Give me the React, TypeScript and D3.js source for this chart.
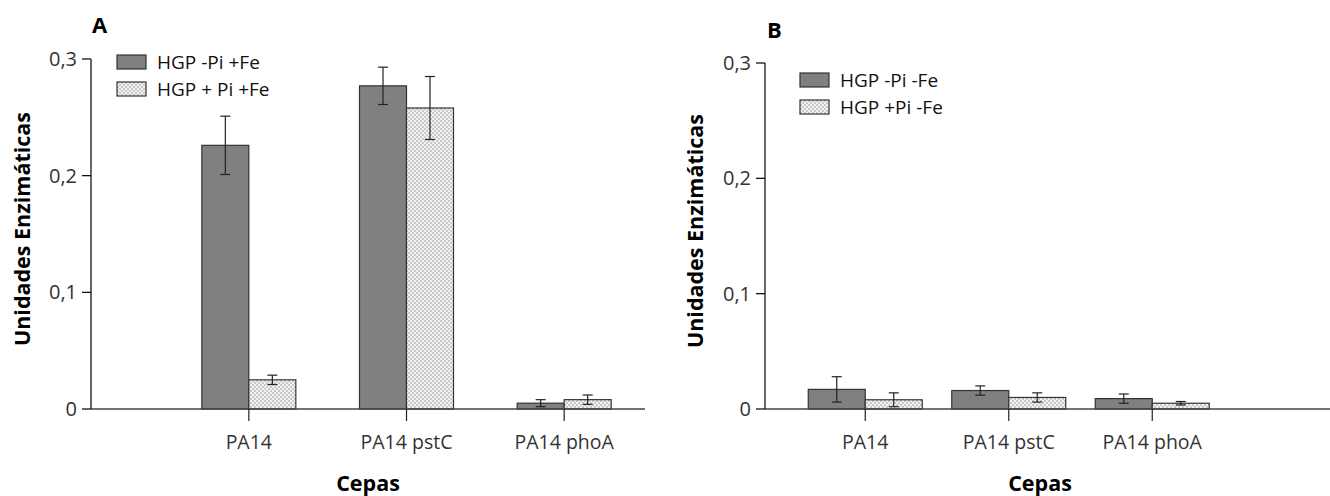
import React from "react";
import * as d3 from "d3";

const categories = ["PA14", "PA14 pstC", "PA14 phoA"];
const yTicks = [0, 0.1, 0.2, 0.3];

// Panel A
const seriesA = ["HGP -Pi +Fe", "HGP + Pi +Fe"];
const valuesA1 = [0.226, 0.277, 0.005];
const errorsA1 = [0.025, 0.016, 0.003];
const valuesA2 = [0.025, 0.258, 0.008];
const errorsA2 = [0.004, 0.027, 0.004];

// Panel B
const seriesB = ["HGP -Pi -Fe", "HGP +Pi -Fe"];
const valuesB1 = [0.017, 0.016, 0.009];
const errorsB1 = [0.011, 0.004, 0.004];
const valuesB2 = [0.008, 0.010, 0.005];
const errorsB2 = [0.006, 0.004, 0.0015];

const FONT = "'Open Sans', 'Noto Sans', sans-serif";
const DARK = "#808080";

type PanelProps = {
  letter: string;
  letterX: number;
  letterY: number;
  axisX: number;
  axisEnd: number;
  yTop: number;
  yBottom: number;
  bandStart: number;
  bandEnd: number;
  barWidth: number;
  series: string[];
  v1: number[];
  e1: number[];
  v2: number[];
  e2: number[];
  legendX: number;
  legendY: number;
  titleX: number;
  cepasX: number;
};

function Panel(p: PanelProps) {
  const y = d3.scaleLinear().domain([0, 0.3]).range([p.yBottom, p.yTop]);
  const x = d3.scaleBand().domain(categories).range([p.bandStart, p.bandEnd]);
  const fmt = (d: number) => (d === 0 ? "0" : d3.format(".1f")(d).replace(".", ","));
  const groups = [
    { vals: p.v1, errs: p.e1, fill: DARK, off: -p.barWidth },
    { vals: p.v2, errs: p.e2, fill: "url(#check)", off: 0 },
  ];
  const cap = 5;
  return (
    <g>
      <text x={p.letterX} y={p.letterY} fontFamily={FONT} fontWeight="bold" fontSize={22}>
        {p.letter}
      </text>
      {/* y axis */}
      <line x1={p.axisX} x2={p.axisX} y1={p.yTop} y2={p.yBottom} stroke="#000" strokeWidth={1.2} />
      {yTicks.map((t) => (
        <g key={t}>
          <line x1={p.axisX - 9} x2={p.axisX} y1={y(t)} y2={y(t)} stroke="#000" strokeWidth={1.2} />
          <text
            x={p.axisX - 14}
            y={y(t)}
            dy="0.35em"
            textAnchor="end"
            fontFamily={FONT}
            fontSize={20}
            fill="#333"
          >
            {fmt(t)}
          </text>
        </g>
      ))}
      {/* bars */}
      {groups.map((g, gi) =>
        categories.map((c, i) => {
          const cx = (x(c) as number) + x.bandwidth() / 2;
          const bx = cx + g.off;
          return (
            <rect
              key={`${gi}-${i}`}
              x={bx}
              y={y(g.vals[i])}
              width={p.barWidth}
              height={y(0) - y(g.vals[i])}
              fill={g.fill}
              stroke="#333"
              strokeWidth={1.2}
            />
          );
        })
      )}
      {/* error bars */}
      {groups.map((g, gi) =>
        categories.map((c, i) => {
          const cx = (x(c) as number) + x.bandwidth() / 2 + g.off + p.barWidth / 2;
          const top = y(g.vals[i] + g.errs[i]);
          const bot = y(g.vals[i] - g.errs[i]);
          return (
            <g key={`e${gi}-${i}`} stroke="#222" strokeWidth={1.2}>
              <line x1={cx} x2={cx} y1={top} y2={bot} />
              <line x1={cx - cap} x2={cx + cap} y1={top} y2={top} />
              <line x1={cx - cap} x2={cx + cap} y1={bot} y2={bot} />
            </g>
          );
        })
      )}
      {/* x axis */}
      <line x1={p.axisX} x2={p.axisEnd} y1={p.yBottom} y2={p.yBottom} stroke="#444" strokeWidth={1.4} />
      {categories.map((c) => {
        const cx = (x(c) as number) + x.bandwidth() / 2;
        return (
          <g key={c}>
            <line x1={cx} x2={cx} y1={p.yBottom} y2={p.yBottom + 12} stroke="#222" strokeWidth={1.2} />
            <text x={cx} y={p.yBottom + 40} textAnchor="middle" fontFamily={FONT} fontSize={19.5} fill="#333">
              {c}
            </text>
          </g>
        );
      })}
      {/* axis titles */}
      <text
        transform={`translate(${p.titleX},${(p.yTop + p.yBottom) / 2 - 5}) rotate(-90)`}
        textAnchor="middle"
        fontFamily={FONT}
        fontWeight="bold"
        fontSize={21.5}
        dy="0.35em"
      >
        Unidades Enzimáticas
      </text>
      <text x={p.cepasX} y={491} textAnchor="middle" fontFamily={FONT} fontWeight="bold" fontSize={21.5}>
        Cepas
      </text>
      {/* legend */}
      {p.series.map((s, i) => (
        <g key={s} transform={`translate(${p.legendX},${p.legendY + i * 27})`}>
          <rect x={0} y={0} width={29} height={14} fill={i === 0 ? DARK : "url(#check)"} stroke="#333" strokeWidth={1.2} />
          <text x={40} y={7} dy="0.35em" fontFamily={FONT} fontSize={19} fill="#111">
            {s}
          </text>
        </g>
      ))}
    </g>
  );
}

export default function App() {
  return (
    <svg
      width={1330}
      height={496}
      style={{ display: "block", position: "absolute", left: 0, top: 0 }}
    >
      <defs>
        <pattern id="check" width={4} height={4} patternUnits="userSpaceOnUse">
          <rect width={4} height={4} fill="#f2f2f2" />
          <rect width={2} height={2} fill="#c8c8c8" />
          <rect x={2} y={2} width={2} height={2} fill="#c8c8c8" />
        </pattern>
      </defs>
      <Panel
        letter="A"
        letterX={92}
        letterY={33}
        axisX={91}
        axisEnd={645}
        yTop={59}
        yBottom={409}
        bandStart={170}
        bandEnd={643}
        barWidth={47}
        series={seriesA}
        v1={valuesA1}
        e1={errorsA1}
        v2={valuesA2}
        e2={errorsA2}
        legendX={117}
        legendY={55}
        titleX={22}
        cepasX={368}
      />
      <Panel
        letter="B"
        letterX={767}
        letterY={38}
        axisX={765}
        axisEnd={1330}
        yTop={63}
        yBottom={409}
        bandStart={793.5}
        bandEnd={1224}
        barWidth={57}
        series={seriesB}
        v1={valuesB1}
        e1={errorsB1}
        v2={valuesB2}
        e2={errorsB2}
        legendX={800}
        legendY={73}
        titleX={695}
        cepasX={1040}
      />
    </svg>
  );
}
